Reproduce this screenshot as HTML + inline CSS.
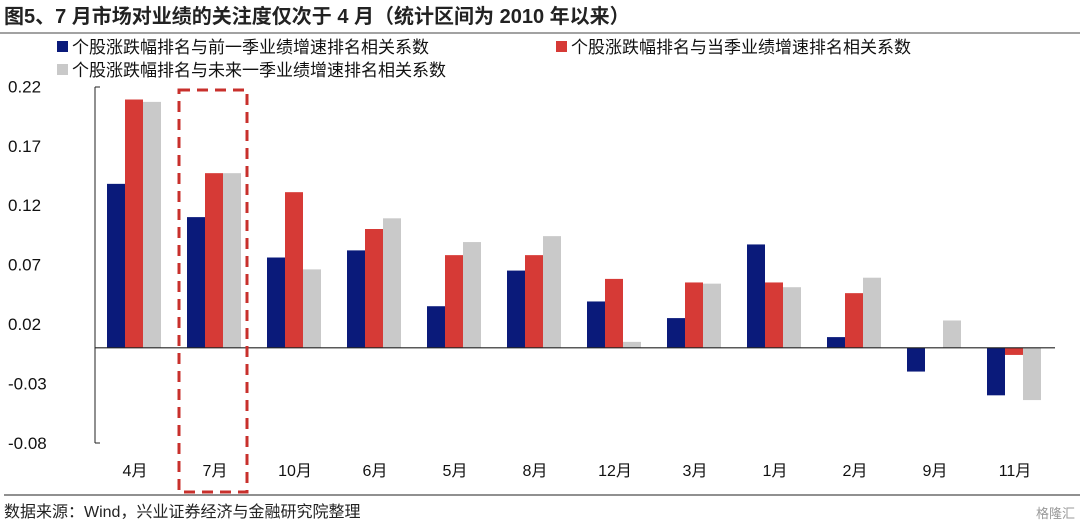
<!DOCTYPE html>
<html><head><meta charset="utf-8"><style>
body{margin:0;background:#fff;width:1080px;height:523px;overflow:hidden;font-family:"Liberation Sans","Noto Sans CJK SC",sans-serif;}
svg text{font-family:"Liberation Sans","Noto Sans CJK SC",sans-serif;}
</style></head><body>
<svg width="1080" height="523">
<text x="4" y="23" font-size="20" font-weight="bold" fill="#222">图5、7 月市场对业绩的关注度仅次于 4 月（统计区间为 2010 年以来）</text>
<line x1="0" y1="33" x2="1080" y2="33" stroke="#444" stroke-width="1"/>
<g>
<rect x="57" y="41" width="11" height="11" fill="#0a1a7a"/>
<text x="72" y="53" font-size="17" fill="#111">个股涨跌幅排名与前一季业绩增速排名相关系数</text>
<rect x="556" y="41" width="11" height="11" fill="#d63a36"/>
<text x="571" y="53" font-size="17" fill="#111">个股涨跌幅排名与当季业绩增速排名相关系数</text>
<rect x="57" y="64" width="11" height="11" fill="#c9c9c9"/>
<text x="72" y="76" font-size="17" fill="#111">个股涨跌幅排名与未来一季业绩增速排名相关系数</text>
</g>
<g id="plot"></g>
<rect x="179" y="90" width="68" height="402" fill="none" stroke="#c8302c" stroke-width="3" stroke-dasharray="11,7"/>
<line x1="4" y1="495" x2="1080" y2="495" stroke="#222" stroke-width="1"/>
<text x="4" y="517" font-size="16" fill="#222">数据来源：Wind，兴业证券经济与金融研究院整理</text>
<text x="1075" y="518" font-size="13" fill="#999" text-anchor="end">格隆汇</text>
</svg>
<script>
const categories=["4月","7月","10月","6月","5月","8月","12月","3月","1月","2月","9月","11月"];
const prevQuarter=[0.138,0.110,0.076,0.082,0.035,0.065,0.039,0.025,0.087,0.009,-0.020,-0.040];
const currentQuarter=[0.209,0.147,0.131,0.100,0.078,0.078,0.058,0.055,0.055,0.046,0,-0.006];
const nextQuarter=[0.207,0.147,0.066,0.109,0.089,0.094,0.005,0.054,0.051,0.059,0.023,-0.044];
const yTicks=[0.22,0.17,0.12,0.07,0.02,-0.03,-0.08];
const NS="http://www.w3.org/2000/svg";
const g=document.getElementById('plot');
const y=v=>347.8-v*1188;
const x=i=>135+80*i;
function mk(t,a){const e=document.createElementNS(NS,t);for(const k in a)e.setAttribute(k,a[k]);g.appendChild(e);return e;}
const ax=mk('line',{x1:95,y1:87,x2:95,y2:443,stroke:'#222','stroke-width':1});


[87,443].forEach(yy=>{
 const tk=mk('line',{x1:95,y1:yy,x2:100,y2:yy,stroke:'#222','stroke-width':1});
 
 
});
yTicks.forEach(t=>{
 const tx=mk('text',{x:8,y:y(t)+6,'font-size':17,fill:'#111'});
 tx.textContent=t.toFixed(2);
 
 
});
const series=[[prevQuarter,'#0a1a7a','prev'],[currentQuarter,'#d63a36','current'],[nextQuarter,'#c9c9c9','next']];
categories.forEach((c,i)=>{
 series.forEach((s,j)=>{
  const v=s[0][i];
  const r=mk('rect',{x:x(i)-28+j*18,y:Math.min(y(v),y(0)),width:18,height:Math.abs(y(v)-y(0)),fill:s[1]});
  
  
 });
 const l=mk('text',{x:x(i),y:476,'font-size':16,fill:'#111','text-anchor':'middle'});
 l.textContent=c;
 
 
});
const z=mk('line',{x1:95,y1:y(0),x2:1055,y2:y(0),stroke:'#222','stroke-width':1.2});


</script>
</body></html>
